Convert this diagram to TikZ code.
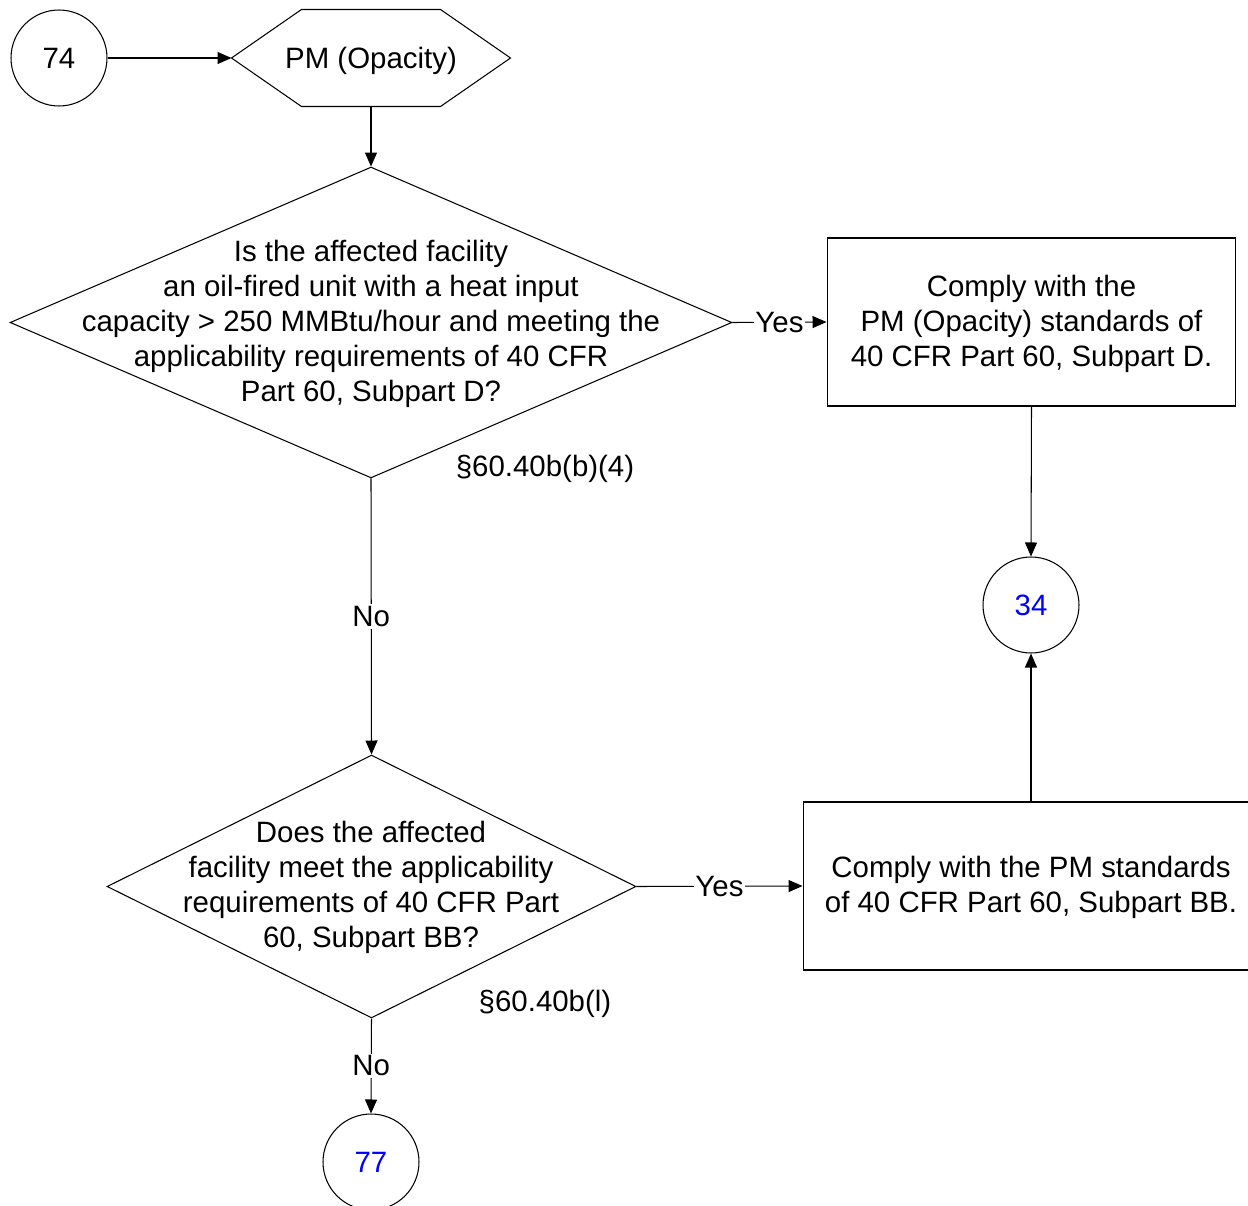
\documentclass[tikz,border=0pt]{standalone}
\usepackage{fontspec}
\setmainfont{Liberation Sans}
\usetikzlibrary{shapes.geometric,arrows.meta,calc}

\definecolor{LinkBlue}{RGB}{0,0,255}

\begin{document}
\begin{tikzpicture}[x=0.02cm, y=-0.02cm, line width=0.6pt,
    txt/.style={font=\fontsize{16.75}{19.9}\selectfont, align=center, inner sep=0pt},
    conn/.style={draw, circle, minimum size=1.92cm, inner sep=0pt},
    decision/.style={draw, diamond, inner sep=0pt},
    actbox/.style={draw, rectangle, minimum height=3.36cm, inner sep=0pt},
    flow/.style={-{Triangle[length=0.28cm, width=0.24cm]}},
    lbl/.style={txt, fill=white, inner sep=1pt}]
  \useasboundingbox (0,0) rectangle (1248,1206);

  % Start
  \node[conn, txt] (c74) at (59,58) {74};
  \node[minimum width=5.56cm, minimum height=1.92cm, inner sep=0pt] (pm) at (371,58) {};
  \draw ($(pm.north west)+(70,0)$) -- ($(pm.north east)+(-70,0)$) -- (pm.east)
     -- ($(pm.south east)+(-70,0)$) -- ($(pm.south west)+(70,0)$) -- (pm.west) -- cycle;
  \node[txt] (pmtext) at (371,60.5) {PM (Opacity)};

  % Question 1
  \node[decision, minimum width=14.44cm, minimum height=6.22cm] (q1) at (371,322.5) {};
  \node[txt] (q1text) at (371,324) {Is the affected facility\\an oil-fired unit with a heat input\\capacity > 250 MMBtu/hour and meeting the\\applicability requirements of 40 CFR\\Part 60, Subpart D?};
  \node[txt] (ref1) at (545,469) {§60.40b(b)(4)};

  % Outcome D
  \node[actbox, minimum width=8.18cm] (boxd) at (1031.5,322) {};
  \node[txt] (boxdtext) at (1031.5,324) {Comply with the\\PM (Opacity) standards of\\40 CFR Part 60, Subpart D.};
  \node[conn, txt, text=LinkBlue] (c34) at (1031,605) {34};

  % Question 2
  \node[decision, minimum width=10.58cm, minimum height=5.26cm] (q2) at (371.5,886.5) {};
  \node[txt] (q2text) at (371,887.5) {Does the affected\\facility meet the applicability\\requirements of 40 CFR Part\\60, Subpart BB?};
  \node[txt] (ref2) at (545,1004) {§60.40b(l)};

  % Outcome BB
  \node[actbox, minimum width=9.12cm] (boxbb) at (1031,886) {};
  \node[txt] (boxbbtext) at (1031,887.5) {Comply with the PM standards\\of 40 CFR Part 60, Subpart BB.};
  \node[conn, txt, text=LinkBlue] (c77) at (371,1162) {77};

  % Connecting lines
  \draw[flow] (c74) -- (pm.west);
  \draw[flow] (pm.south) -- (q1.north);
  \draw[flow] (q1.east) -- node[lbl] {Yes} (boxd.west);
  \draw[flow] (q1.south) -- node[lbl] {No} (q2.north);
  \draw[flow] (boxd.south) -- (c34.north);
  \draw[flow] (q2.east) -- node[lbl] {Yes} (boxbb.west);
  \draw[flow] (boxbb.north) -- (c34.south);
  \draw[flow] (q2.south) -- node[lbl] {No} (c77.north);
\end{tikzpicture}
\end{document}
